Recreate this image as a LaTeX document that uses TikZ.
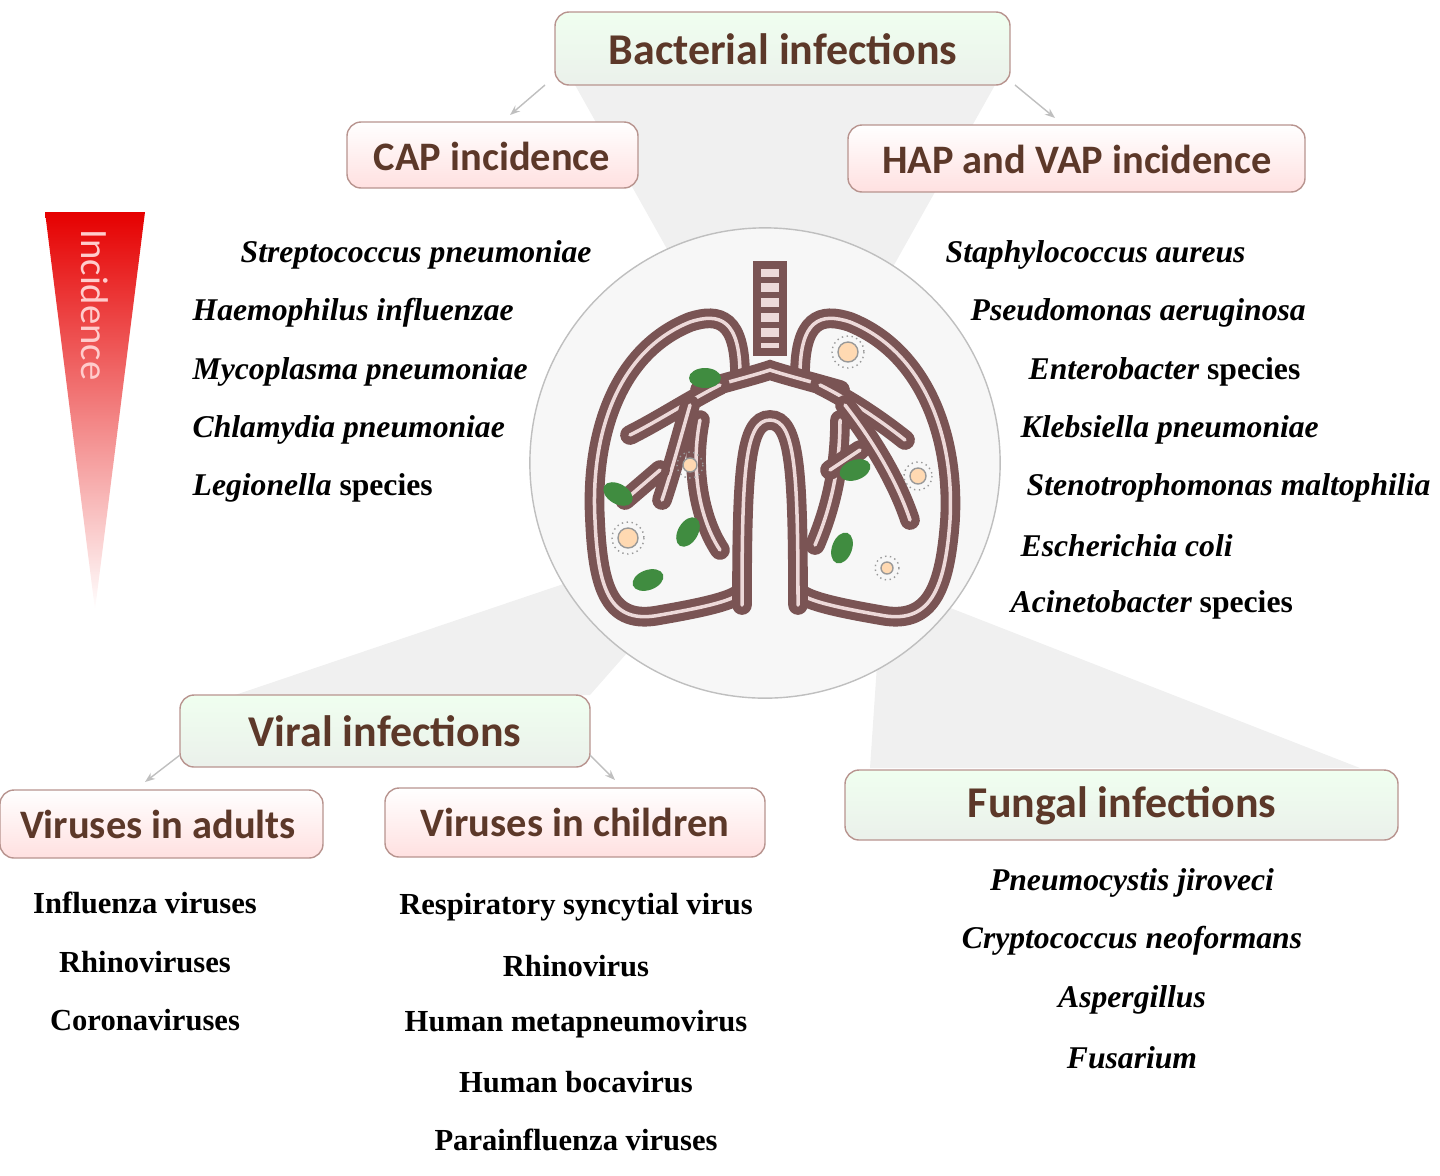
\documentclass[tikz,border=0pt]{standalone}
\usepackage{fontspec}
\setmainfont{Liberation Serif}
\newfontfamily\hdfont{Carlito}
\usetikzlibrary{arrows.meta}
\definecolor{hdbrown}{rgb}{0.36,0.22,0.16}
\definecolor{boxline}{rgb}{0.72,0.58,0.56}
\definecolor{lungbrown}{rgb}{0.48,0.33,0.33}
\definecolor{lungpink}{rgb}{0.93,0.85,0.85}
\definecolor{germ}{rgb}{0.25,0.55,0.25}

\begin{document}
\begin{tikzpicture}[%
  x=0.01cm, y=-0.01cm,
  >={Stealth[scale=0.6]},
  greenbox/.style={draw=boxline, rounded corners=4pt, top color=green!6, bottom color=green!28!black!8},
  pinkbox/.style={draw=boxline, rounded corners=4pt, top color=white, bottom color=red!12},
  bighd/.style={text=hdbrown, font=\hdfont\bfseries\fontsize{12.5}{14}\selectfont},
  smallhd/.style={text=hdbrown, font=\hdfont\bfseries\fontsize{11.5}{13}\selectfont},
  bug/.style={font=\bfseries\itshape\fontsize{9}{10}\selectfont, anchor=west, inner sep=0pt},
  vir/.style={font=\bfseries\fontsize{8.7}{10}\selectfont, inner sep=0pt},
  cone/.style={fill=black!6},
  lung/.style={draw=lungbrown, line width=2.3pt, double=lungpink, double distance=1pt, line cap=round},
]
  \useasboundingbox (0,0) rectangle (1440,1175);

  % cones
  \fill[cone] (575,85) -- (995,85) -- (880,290) -- (690,290) -- cycle;
  \fill[cone] (235,695) -- (590,695) -- (700,570) -- (590,575) -- cycle;
  \fill[cone] (870,768) -- (1360,768) -- (930,600) -- (880,620) -- cycle;

  % circle
  \node[circle, draw=black!25, fill=black!3, minimum size=4.7cm, inner sep=0pt] (lungs) at (765,463) {};

  % incidence triangle
  \shade[top color=red!90!black, bottom color=white] (45,212) -- (145,212) -- (95,610) -- cycle;
  \node[rotate=-90, text=red!20, font=\hdfont\fontsize{11}{13}\selectfont] (inc) at (95,305) {Incidence};

  % header boxes
  \draw[greenbox] (555,12) rectangle (1010,85);
  \node[bighd] (bact) at (783,49) {Bacterial infections};
  \draw[pinkbox] (347,122) rectangle (638,188);
  \node[smallhd] (cap) at (492,156) {CAP incidence};
  \draw[pinkbox] (848,125) rectangle (1305,192);
  \node[smallhd] (hap) at (1077,159) {HAP and VAP incidence};
  \draw[greenbox] (180,695) rectangle (590,767);
  \node[bighd] (viral) at (385,731) {Viral infections};
  \draw[pinkbox] (0,790) rectangle (323,858);
  \node[smallhd] (adult) at (158,824) {Viruses in adults};
  \draw[pinkbox] (385,788) rectangle (765,857);
  \node[smallhd] (child) at (575,822) {Viruses in children};
  \draw[greenbox] (845,770) rectangle (1398,840);
  \node[bighd] (fung) at (1122,806) {Fungal infections};

  % small arrows
  \coordinate (b1) at (545,85); \coordinate (b2) at (510,115);
  \coordinate (b3) at (1015,85); \coordinate (b4) at (1055,118);
  \coordinate (v1) at (180,755); \coordinate (v2) at (145,782);
  \coordinate (v3) at (590,755); \coordinate (v4) at (615,780);
  \draw[->, black!25] (b1) -- (b2);
  \draw[->, black!25] (b3) -- (b4);
  \draw[->, black!25] (v1) -- (v2);
  \draw[->, black!25] (v3) -- (v4);

  % lung
  \draw[lungbrown, line width=2pt, fill=lungpink] (757,265) rectangle (783,352);
  \foreach \y in {280,295,310,325,340} \draw[lungbrown, line width=1.5pt] (757,\y) -- (783,\y);
  \draw[lung] (740,375) .. controls (740,320) and (720,312) .. (690,322)
     .. controls (620,350) and (590,430) .. (595,520)
     .. controls (598,590) and (610,625) .. (660,615)
     .. controls (700,608) and (740,600) .. (742,590);
  \draw[lung] (800,375) .. controls (800,320) and (820,312) .. (850,322)
     .. controls (920,350) and (955,430) .. (950,520)
     .. controls (945,590) and (930,625) .. (880,615)
     .. controls (840,608) and (800,600) .. (798,590);
  \draw[lung] (742,605) .. controls (742,470) and (745,420) .. (770,420)
     .. controls (795,420) and (798,470) .. (798,605);
  \draw[lung] (700,390) .. controls (735,380) and (755,375) .. (770,370)
     .. controls (785,375) and (805,380) .. (840,390);
  \draw[lung] (720,385) .. controls (690,400) and (660,420) .. (630,435);
  \draw[lung] (690,405) .. controls (680,440) and (672,470) .. (662,500);
  \draw[lung] (700,420) .. controls (690,470) and (700,520) .. (720,550);
  \draw[lung] (660,470) -- (625,500);
  \draw[lung] (820,385) .. controls (850,400) and (880,420) .. (905,440);
  \draw[lung] (845,405) .. controls (880,450) and (900,490) .. (910,520);
  \draw[lung] (840,420) .. controls (840,470) and (830,510) .. (815,545);
  \draw[lung] (860,450) -- (830,470);

  % germs
  \foreach \x/\y/\r in {705/378/0, 855/470/20, 618/494/-30, 688/532/60, 648/580/20, 842/548/70}
    \fill[germ, rotate around={\r:(\x,\y)}] (\x,\y) ellipse (16 and 10);
  \foreach \x/\y/\s in {848/352/10, 628/538/10, 918/476/8, 690/465/7, 887/568/6}
    {\draw[black!40, line width=0.4pt, densely dotted] (\x,\y) circle (\s+6);
     \fill[orange!30, draw=black!40] (\x,\y) circle (\s);}

  % bacteria lists
  \node[bug] (s1) at (240,255) {Streptococcus pneumoniae};
  \node[bug] (s2) at (192,313) {Haemophilus influenzae};
  \node[bug] (s3) at (192,372) {Mycoplasma pneumoniae};
  \node[bug] (s4) at (192,430) {Chlamydia pneumoniae};
  \node[bug] (s5) at (192,488) {Legionella \upshape species};
  \node[bug] (h1) at (945,255) {Staphylococcus aureus};
  \node[bug] (h2) at (970,313) {Pseudomonas aeruginosa};
  \node[bug] (h3) at (1028,372) {Enterobacter \upshape species};
  \node[bug] (h4) at (1020,430) {Klebsiella pneumoniae};
  \node[bug] (h5) at (1026,488) {Stenotrophomonas maltophilia};
  \node[bug] (h6) at (1020,546) {Escherichia coli};
  \node[bug] (h7) at (1010,605) {Acinetobacter \upshape species};

  % virus lists
  \node[vir] (a1) at (145,903) {Influenza viruses};
  \node[vir] (a2) at (145,962) {Rhinoviruses};
  \node[vir] (a3) at (145,1020) {Coronaviruses};
  \node[vir] (c1) at (576,907) {Respiratory syncytial virus};
  \node[vir] (c2) at (576,966) {Rhinovirus};
  \node[vir] (c3) at (576,1024) {Human metapneumovirus};
  \node[vir] (c4) at (576,1082) {Human bocavirus};
  \node[vir] (c5) at (576,1140) {Parainfluenza viruses};

  % fungal list
  \node[vir, font=\bfseries\itshape\fontsize{9}{10}\selectfont] (f1) at (1132,883) {Pneumocystis jiroveci};
  \node[vir, font=\bfseries\itshape\fontsize{9}{10}\selectfont] (f2) at (1132,941) {Cryptococcus neoformans};
  \node[vir, font=\bfseries\itshape\fontsize{9}{10}\selectfont] (f3) at (1132,1000) {Aspergillus};
  \node[vir, font=\bfseries\itshape\fontsize{9}{10}\selectfont] (f4) at (1132,1058) {Fusarium};
\end{tikzpicture}
\end{document}
